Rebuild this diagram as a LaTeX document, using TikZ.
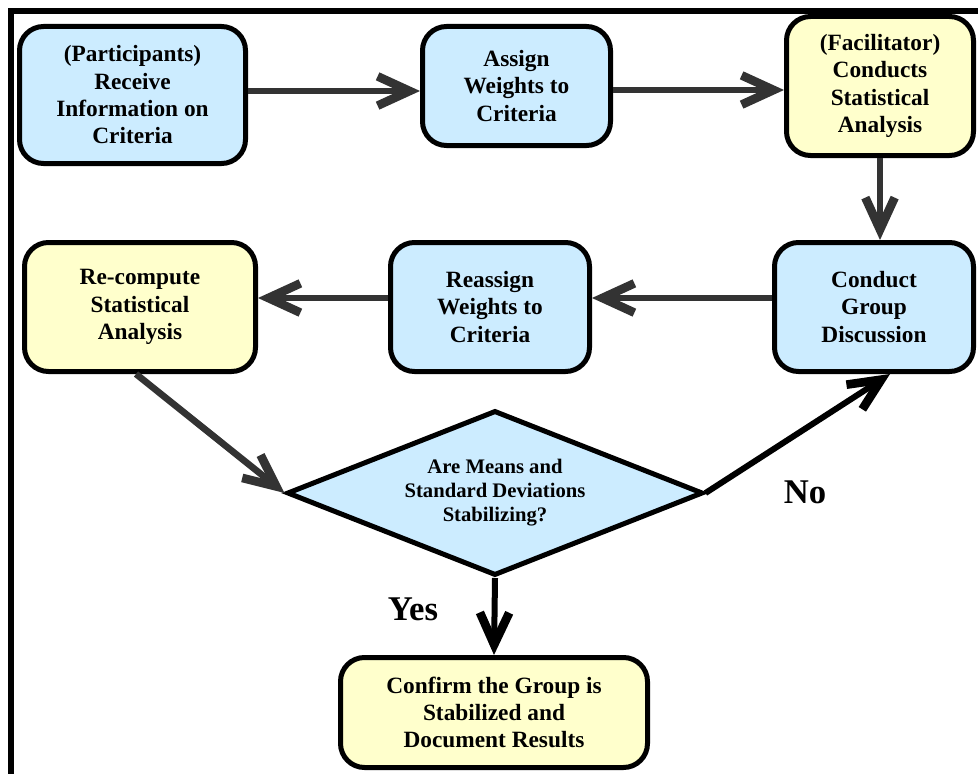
\documentclass[tikz,border=0pt]{standalone}
\usepackage{fontspec}
\setmainfont{Liberation Serif}
\usetikzlibrary{arrows.meta,shapes.geometric,calc}
\definecolor{boxblue}{RGB}{204,236,255}
\definecolor{boxyellow}{RGB}{255,255,204}
\definecolor{arrgray}{RGB}{51,51,51}
\begin{document}
\begin{tikzpicture}[x=0.75pt,y=-0.75pt,
  box/.style={draw=black,line width=3.75pt,rounded corners=18pt,align=center,
    inner sep=0pt,font=\bfseries\fontsize{17.5}{20.5}\selectfont},
  bluebox/.style={box,fill=boxblue},
  yellowbox/.style={box,fill=boxyellow},
  arr/.style={draw=arrgray,line width=5pt,-{Straight Barb[length=24pt,width=22pt,line width=6.5pt]}},
  blackarr/.style={draw=black,line width=4.5pt,-{Straight Barb[length=24pt,width=22pt,line width=6.5pt]}},
  lbl/.style={font=\bfseries\fontsize{26}{30}\selectfont,inner sep=0pt}
]
\useasboundingbox (0,0) rectangle (978,774);
% frame
\draw[line width=5pt] (11,800) -- (11,11) -- (1000,11);

\node[bluebox,minimum width=169.5pt,minimum height=102.75pt] (n1) at (132.5,95)
  {(Participants)\\Receive\\Information on\\Criteria};
\node[bluebox,minimum width=141pt,minimum height=89.25pt] (n2) at (516.5,86)
  {Assign\\Weights to\\Criteria};
\node[yellowbox,minimum width=140.25pt,minimum height=104.25pt] (n3) at (880,86)
  {(Facilitator)\\Conducts\\Statistical\\Analysis};
\node[yellowbox,minimum width=173.25pt,minimum height=96.75pt] (n4) at (140,307)
  {Re-compute\\Statistical\\Analysis};
\node[bluebox,minimum width=149.25pt,minimum height=96.75pt] (n5) at (490,307)
  {Reassign\\Weights to\\Criteria};
\node[bluebox,minimum width=149.25pt,minimum height=96.75pt] (n6) at (874,307)
  {Conduct\\Group\\Discussion};
\node[diamond,draw=black,line width=3.75pt,fill=boxblue,aspect=2.5,inner sep=0pt,
  minimum width=312pt,minimum height=123.75pt,align=center,
  font=\bfseries\fontsize{15.5}{18}\selectfont] (d) at (495,493)
  {Are Means and\\Standard Deviations\\Stabilizing?};
\node[yellowbox,minimum width=230.25pt,minimum height=82.5pt] (n8) at (494,712.5)
  {Confirm the Group is\\Stabilized and\\Document Results};

\draw[arr] (n1.east |- 0,91) -- (n2.west |- 0,91);
\draw[arr] (n2.east |- 0,90) -- (n3.west |- 0,90);
\draw[arr] (n3.south) -- (n3.south |- n6.north);
\draw[arr] (n6.west |- 0,298) -- (n5.east |- 0,298);
\draw[arr] (n5.west |- 0,298) -- (n4.east |- 0,298);
\draw[arr] ([xshift=-3pt]n4.south) -- (d.west);
\draw[blackarr] (d.east) -- ([xshift=12pt]n6.south);
\draw[blackarr] (d.south) -- (n8.north);

\node[lbl] (no) at (805,492) {No};
\node[lbl] (yes) at (413,609) {Yes};
\end{tikzpicture}
\end{document}
